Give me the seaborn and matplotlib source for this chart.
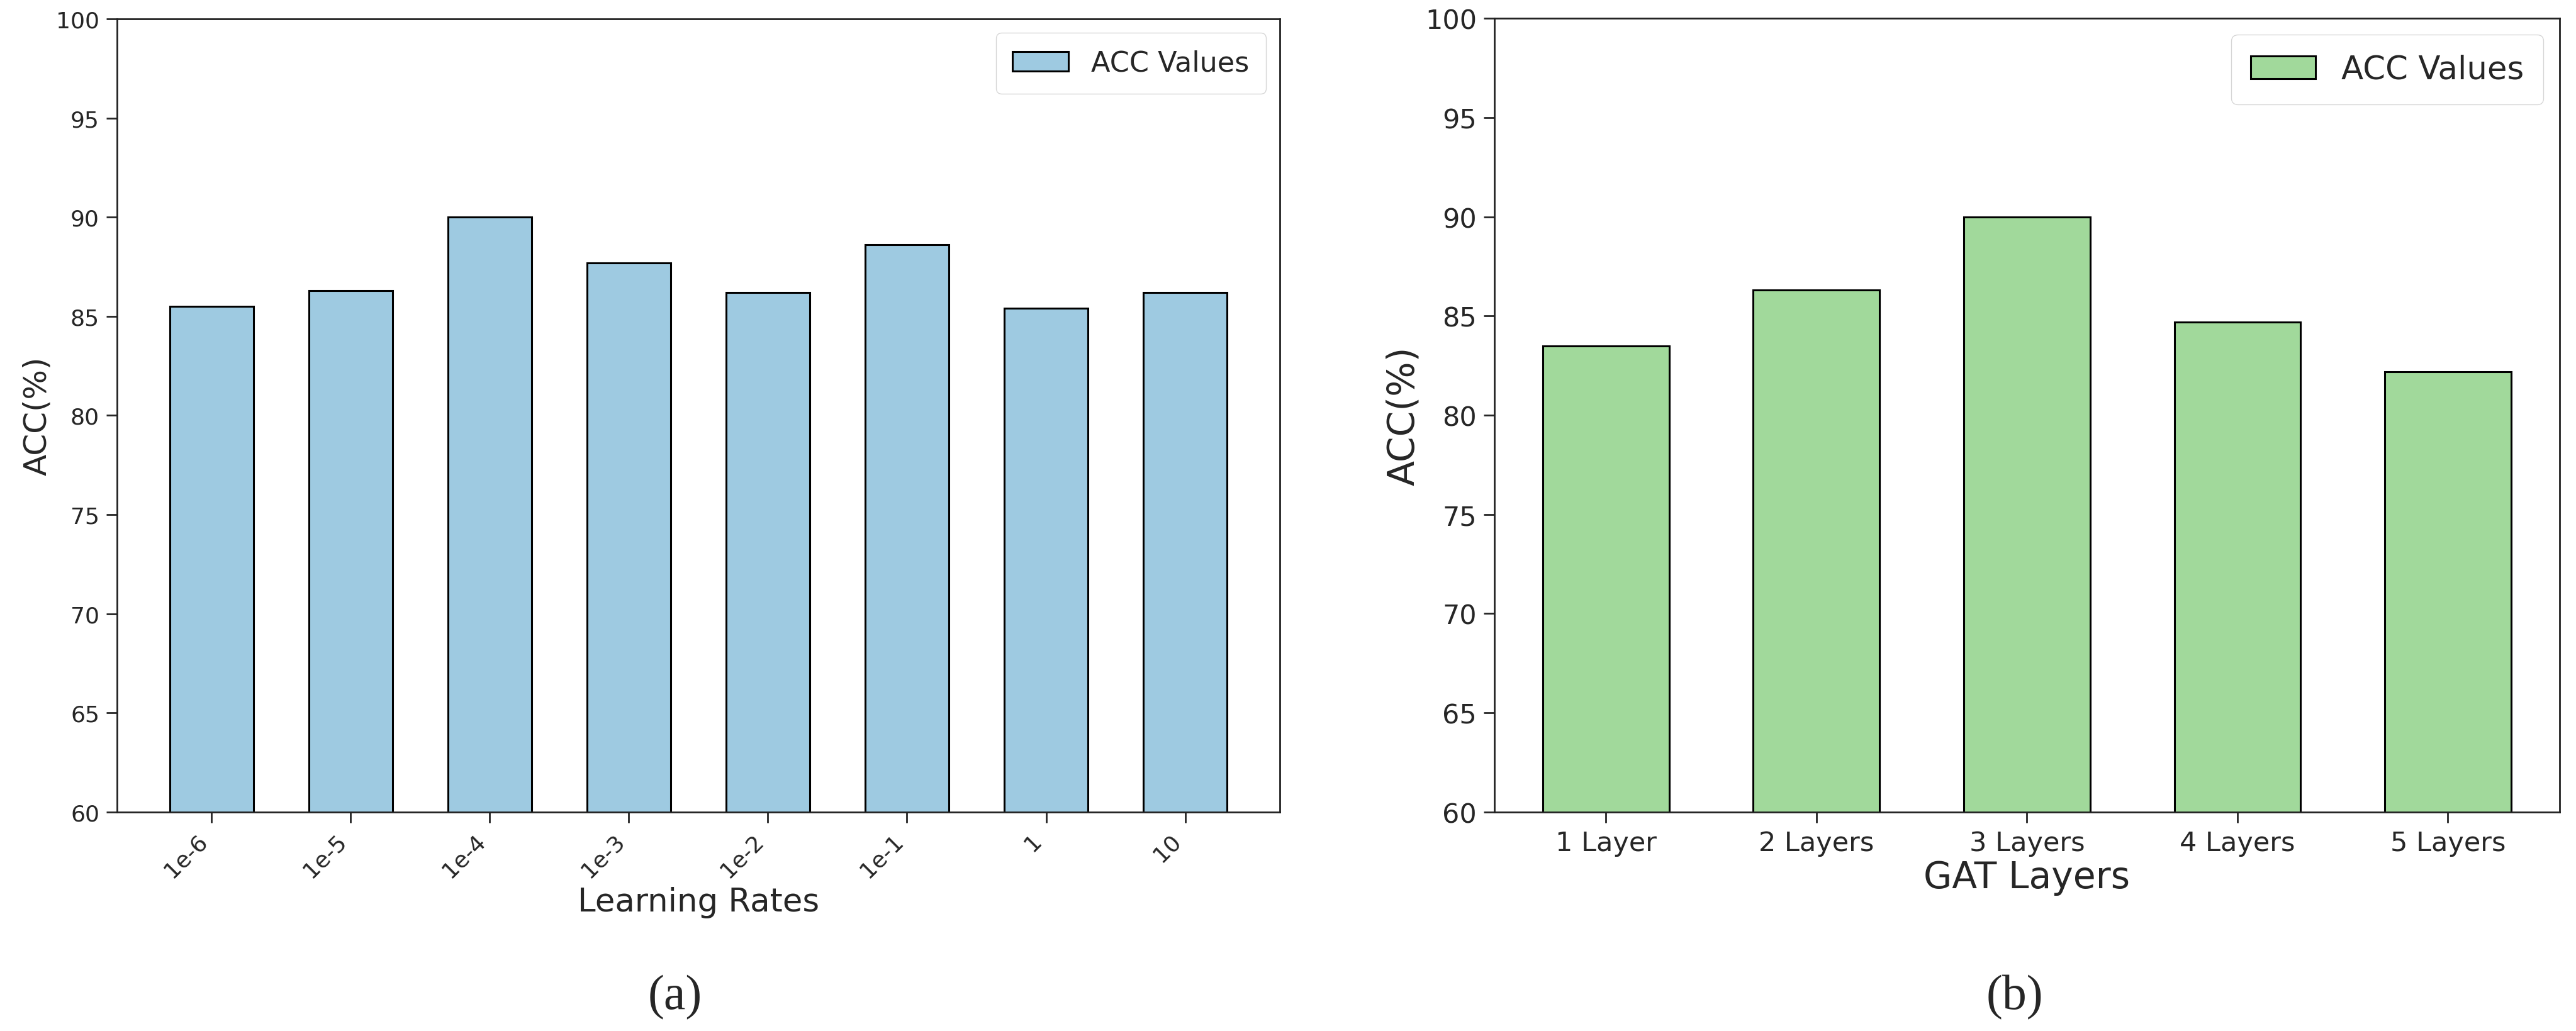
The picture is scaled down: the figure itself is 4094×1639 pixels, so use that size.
import matplotlib
matplotlib.use('Agg')
import matplotlib.pyplot as plt
import seaborn as sns

# ── 数据 ──
lr_labels = ['1e-6', '1e-5', '1e-4', '1e-3', '1e-2', '1e-1', '1', '10']
lr_acc = [85.5, 86.3, 90.0, 87.7, 86.2, 88.6, 85.4, 86.2]

layer_labels = ['1 Layer', '2 Layers', '3 Layers', '4 Layers', '5 Layers']
layer_acc = [83.5, 86.3, 90.0, 84.7, 82.2]

BLUE = '#9ecae1'
GREEN = '#a1d99b'

sns.set_style('ticks')
plt.rcParams['font.family'] = ['DejaVu Sans']


def bar_panel(ax, labels, values, color, fs):
    """单个柱状图面板"""
    sns.barplot(x=labels, y=values, color=color, width=0.6, edgecolor='black',
                linewidth=2.2, saturation=1, label='ACC Values', ax=ax)
    n = len(labels)
    pad = 0.05 * (n - 1 + 0.6)
    ax.set_xlim(-0.3 - pad, n - 1 + 0.3 + pad)
    ax.set_ylim(60, 100)
    ax.set_yticks(range(60, 101, 5))
    for s in ax.spines.values():
        s.set_visible(True)
        s.set_linewidth(2.0)
        s.set_color('#222222')
    ax.tick_params(axis='both', length=12, width=2.0, labelsize=fs['tick'], pad=8)
    ax.set_ylabel('ACC(%)', fontsize=fs['ylabel'])
    ax.legend(loc='upper right', fontsize=fs['legend'], handlelength=2.0,
              borderpad=0.6, fancybox=True)


fig = plt.figure(figsize=(40.94, 16.40), dpi=100)
ax1 = fig.add_axes([0.0454, 0.2122, 0.4514, 0.7689])
ax2 = fig.add_axes([0.5801, 0.2122, 0.4135, 0.7695])

bar_panel(ax1, lr_labels, lr_acc, BLUE,
          {'tick': 26, 'ylabel': 36, 'legend': 32})
ax1.set_xlabel('Learning Rates', fontsize=37, labelpad=6)
plt.setp(ax1.get_xticklabels(), rotation=45, ha='right')

bar_panel(ax2, layer_labels, layer_acc, GREEN,
          {'tick': 31, 'ylabel': 42, 'legend': 37})
ax2.set_xlabel('GAT Layers', fontsize=42, labelpad=4)

fig.text(0.262, 0.033, '(a)', fontsize=56, family='Liberation Serif', ha='center', va='center')
fig.text(0.782, 0.033, '(b)', fontsize=56, family='Liberation Serif', ha='center', va='center')

fig.savefig('out.png', dpi=100)
plt.close()
